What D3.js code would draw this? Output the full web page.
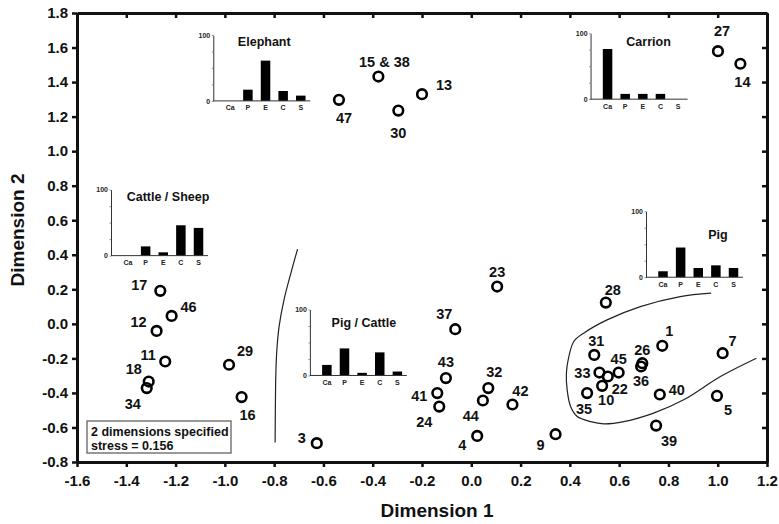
<!DOCTYPE html>
<html>
<head>
<meta charset="utf-8">
<script src="https://cdn.jsdelivr.net/npm/d3@7"></script>
<style>
  body { margin: 0; background: #fff; }
  svg text { font-family: "Liberation Sans", Arial, sans-serif; font-weight: bold; fill: #111; }
</style>
</head>
<body>
<div id="chart"></div>
<script>
// -------- Data --------
const sites = ["1","3","4","5","7","9","10","11","12","13","14","15 & 38","16","17","18",
  "22","23","24","26","27","28","29","30","31","32","33","34","35","36","37","39","40",
  "41","42","43","44","45","46","47"];
const dim1 = [0.775,-0.627,0.024,0.997,1.020,0.342,0.531,-1.242,-1.277,-0.200,1.092,-0.377,-0.932,-1.262,-1.309,
  0.554,0.105,-0.130,0.694,1.001,0.546,-0.983,-0.296,0.499,0.069,0.520,-1.317,0.470,0.689,-0.065,0.750,0.765,
  -0.138,0.167,-0.103,0.047,0.598,-1.216,-0.537];
const dim2 = [-0.127,-0.691,-0.649,-0.417,-0.170,-0.639,-0.359,-0.218,-0.041,1.330,1.506,1.432,-0.424,0.191,-0.334,
  -0.305,0.216,-0.479,-0.228,1.579,0.123,-0.237,1.235,-0.180,-0.372,-0.282,-0.372,-0.401,-0.247,-0.031,-0.589,-0.409,
  -0.401,-0.467,-0.314,-0.444,-0.282,0.046,1.297];

const xTickValues = [-1.6,-1.4,-1.2,-1.0,-0.8,-0.6,-0.4,-0.2,0.0,0.2,0.4,0.6,0.8,1.0,1.2];
const yTickValues = [-0.8,-0.6,-0.4,-0.2,0.0,0.2,0.4,0.6,0.8,1.0,1.2,1.4,1.6,1.8];

// inset bar charts (% of each animal)
const insetCats = ["Ca","P","E","C","S"];
const insetNames = ["Elephant","Carrion","Cattle / Sheep","Pig","Pig / Cattle"];
const elephantPct    = [0, 17, 61, 15, 8];
const carrionPct     = [76, 8, 8, 8, 0];
const cattleSheepPct = [0, 14, 5, 46, 42];
const pigPct         = [9, 45, 14, 18, 14];
const pigCattlePct   = [16, 41, 4, 35, 6];
const insetValues = [elephantPct, carrionPct, cattleSheepPct, pigPct, pigCattlePct];

// hand drawn group boundaries (in Dimension 1 / 2 units)
const leftDivider = [[-0.705,0.433],[-0.732,0.294],[-0.760,0.139],[-0.780,-0.016],[-0.789,-0.151],[-0.793,-0.285],[-0.796,-0.687]];
const pigEnclosure = [[0.973,0.178],[0.848,0.158],[0.686,0.100],[0.551,0.023],[0.456,-0.054],[0.416,-0.102],
  [0.396,-0.189],[0.386,-0.285],[0.389,-0.382],[0.403,-0.479],[0.430,-0.537],[0.484,-0.566],[0.538,-0.579],
  [0.619,-0.566],[0.740,-0.517],[0.862,-0.440],[1.011,-0.305],[1.157,-0.199]];

// -------- Layout --------
const W = 779, H = 524;
const m = { top: 13, right: 12, bottom: 62, left: 77 };
const w = W - m.left - m.right;
const h = H - m.top - m.bottom;

// label offsets (px) from the circle centre
const labelOffset = {
  "1":[7,-15],"3":[-15,-5],"4":[-15,9],"5":[11,14],"7":[10,-12],"9":[-15,11],"10":[4,14],
  "11":[-17,-7],"12":[-18,-9],"13":[22,-9],"14":[2,18],"15 & 38":[6,-15],"16":[6,18],"17":[-21,-6],
  "18":[-15,-13],"22":[12,12],"23":[0,-15],"24":[-15,15],"26":[0,-13],"27":[4,-20],"28":[7,-13],
  "29":[16,-14],"30":[0,22],"31":[2,-14],"32":[6,-16],"33":[-17,0],"34":[-14,16],"35":[-3,16],
  "36":[0,14],"37":[-11,-15],"39":[13,15],"40":[17,-5],"41":[-18,3],"42":[8,-14],"43":[0,-16],
  "44":[-12,15],"45":[0,-14],"46":[17,-9],"47":[5,18]
};

// inset placement: axis origin in data units, title offset in px from axis top
const insetLayout = {
  "Elephant":       { at: [-1.047, 1.291], title: [51, 7] },
  "Carrion":        { at: [0.484, 1.301],  title: [58, 8] },
  "Cattle / Sheep": { at: [-1.462, 0.395], title: [57, 7] },
  "Pig":            { at: [0.709, 0.270],  title: [72, 23] },
  "Pig / Cattle":   { at: [-0.655, -0.299], title: [54, 13] }
};

// -------- Canvas --------
const svg = d3.select('#chart').append('svg')
  .attr('width', W).attr('height', H);

const g = svg.append('g').attr('transform', `translate(${m.left},${m.top})`);

const x = d3.scaleLinear().domain([-1.6, 1.2]).range([0, w]);
const y = d3.scaleLinear().domain([-0.8, 1.8]).range([h, 0]);

// -------- Axes / frame --------
const fmt = d => d.toFixed(1);
const styleAxis = sel => {
  sel.attr('font-size', null).attr('font-family', null);
  sel.selectAll('.domain').attr('stroke', '#111').attr('stroke-width', 3);
  sel.selectAll('.tick line').attr('stroke', '#111').attr('stroke-width', 2.5);
  sel.selectAll('.tick text').style('font-size', '15px').style('fill', '#111');
};

g.append('g').attr('transform', `translate(0,${h})`)
  .call(d3.axisBottom(x).tickValues(xTickValues).tickFormat(fmt).tickSize(5).tickSizeOuter(0).tickPadding(8))
  .call(styleAxis);
g.append('g')
  .call(d3.axisLeft(y).tickValues(yTickValues).tickFormat(fmt).tickSize(5).tickSizeOuter(0).tickPadding(4))
  .call(styleAxis);
g.append('g')
  .call(d3.axisTop(x).tickValues(xTickValues).tickFormat('').tickSize(-5).tickSizeOuter(0))
  .call(styleAxis);
g.append('g').attr('transform', `translate(${w},0)`)
  .call(d3.axisRight(y).tickValues(yTickValues).tickFormat('').tickSize(-5).tickSizeOuter(0))
  .call(styleAxis);

// axis titles
svg.append('text')
  .attr('x', 437).attr('y', 517)
  .attr('text-anchor', 'middle')
  .style('font-size', '19px')
  .text('Dimension 1');
svg.append('text')
  .attr('transform', 'translate(24,230) rotate(-90)')
  .attr('text-anchor', 'middle')
  .style('font-size', '19px')
  .text('Dimension 2');

// -------- Boundaries --------
const line = d3.line().x(d => x(d[0])).y(d => y(d[1])).curve(d3.curveCatmullRom);
g.selectAll('path.boundary')
  .data([leftDivider, pigEnclosure])
  .join('path')
    .attr('class', 'boundary')
    .attr('d', line)
    .attr('fill', 'none')
    .attr('stroke', '#222')
    .attr('stroke-width', 1.2);

// -------- Insets --------
const insetH = 66;
const cx = d3.scalePoint().domain(insetCats).range([17, 87.5]);
const iy = d3.scaleLinear().domain([0, 100]).range([insetH, 0]);

insetNames.forEach((name, i) => {
  const lay = insetLayout[name];
  const ox = x(lay.at[0]), oy = y(lay.at[1]) - insetH;
  const ig = g.append('g').attr('transform', `translate(${ox},${oy})`);

  ig.selectAll('rect')
    .data(insetValues[i])
    .join('rect')
      .attr('x', (d, j) => cx(insetCats[j]) - 4.75)
      .attr('width', 9.5)
      .attr('y', d => iy(d))
      .attr('height', d => insetH - iy(d))
      .attr('fill', '#000');

  const ya = ig.append('g')
    .call(d3.axisLeft(iy).tickValues([0, 25, 50, 75, 100])
      .tickFormat(d => (d === 0 || d === 100) ? d : '')
      .tickSize(1.5).tickSizeOuter(0).tickPadding(1.5));
  ya.attr('font-size', null).attr('font-family', null);
  ya.selectAll('.domain').attr('stroke', '#333').attr('stroke-width', 1);
  ya.selectAll('.tick line').attr('stroke', '#777').attr('stroke-width', 0.8);
  ya.selectAll('.tick text').style('font-size', '7px').style('fill', '#222');

  ig.append('line')
    .attr('x1', 0).attr('x2', 97)
    .attr('y1', insetH).attr('y2', insetH)
    .attr('stroke', '#333').attr('stroke-width', 1);

  ig.selectAll('text.cat')
    .data(insetCats)
    .join('text')
      .attr('class', 'cat')
      .attr('x', d => cx(d))
      .attr('y', insetH + 7)
      .attr('dy', '0.35em')
      .attr('text-anchor', 'middle')
      .style('font-size', '7px')
      .style('fill', '#222')
      .text(d => d);

  ig.append('text')
    .attr('x', lay.title[0]).attr('y', lay.title[1])
    .attr('dy', '0.35em')
    .attr('text-anchor', 'middle')
    .style('font-size', '12.5px')
    .text(name);
});

// -------- Points --------
const pts = sites.map((s, i) => ({ id: s, x: dim1[i], y: dim2[i] }));

g.selectAll('circle.site')
  .data(pts)
  .join('circle')
    .attr('class', 'site')
    .attr('cx', d => x(d.x))
    .attr('cy', d => y(d.y))
    .attr('r', 4.8)
    .attr('fill', 'none')
    .attr('stroke', '#000')
    .attr('stroke-width', 2.6);

g.selectAll('text.site')
  .data(pts)
  .join('text')
    .attr('class', 'site')
    .attr('x', d => x(d.x) + labelOffset[d.id][0])
    .attr('y', d => y(d.y) + labelOffset[d.id][1])
    .attr('dy', '0.36em')
    .attr('text-anchor', 'middle')
    .style('font-size', '14.5px')
    .text(d => d.id);

// -------- Stress box --------
const box = g.append('g').attr('transform', `translate(10,${h - 41})`);
box.append('rect')
  .attr('width', 144).attr('height', 32)
  .attr('fill', '#fff')
  .attr('stroke', '#555').attr('stroke-width', 1.2);
box.append('text').attr('x', 4).attr('y', 15).style('font-size', '12.5px').text('2 dimensions specified');
box.append('text').attr('x', 4).attr('y', 29).style('font-size', '12.5px').text('stress = 0.156');
</script>
</body>
</html>
